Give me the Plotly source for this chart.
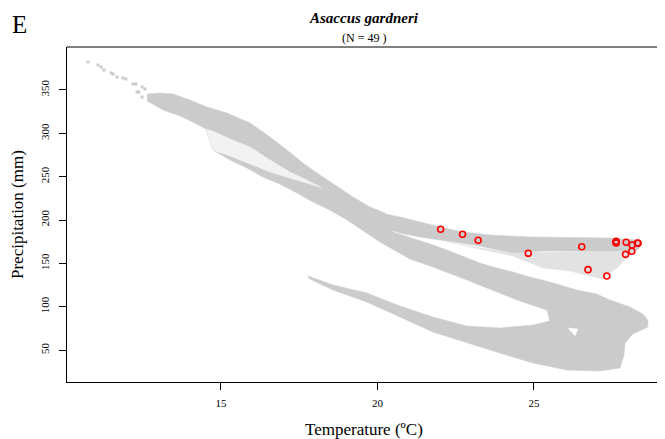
import plotly.graph_objects as go

# Red points: occurrence records of Asaccus gardneri (temperature, precipitation)
rec_temp = [22.02, 22.72, 23.22, 24.82, 26.53, 26.73, 27.33, 27.63, 27.63, 27.62,
            27.95, 28.14, 28.33, 28.31, 27.93, 28.13]
rec_prec = [189.3, 183.5, 176.6, 161.6, 169.2, 142.7, 135.4, 175.4, 173.5, 174.5,
            174.3, 171.2, 173.1, 173.5, 160.4, 163.9]

# Sparse background cells at the cool/wet end
tail_temp = [10.75, 11.07, 11.17, 11.26, 11.49, 11.55, 11.68, 11.87, 11.96, 12.19,
             12.28, 12.48, 12.57, 12.32, 12.38, 12.48]
tail_prec = [382.3, 378.8, 376.5, 373.1, 369.6, 368.5, 365.0, 363.8, 362.7, 356.9,
             356.9, 353.5, 351.2, 347.7, 347.7, 341.9]

# Outline of the main background cloud (upper band, middle band, lower band)
main_temp = [12.64, 13.05, 13.47, 14.01, 14.55, 15.19, 15.93, 16.57, 17.11, 17.62,
             18.07, 18.58, 19.22, 19.76, 20.24, 20.50,
             21.13, 21.68, 22.22, 22.86, 23.27, 23.82, 24.33, 24.87, 25.51, 26.37,
             27.01, 27.43, 28.07, 28.48, 28.64, 28.64, 28.16, 27.91, 27.88, 27.75,
             27.11, 26.05, 24.97, 23.91, 22.86, 21.77, 20.72, 19.66, 18.58, 17.84,
             17.78, 18.58, 19.66, 20.72, 21.77, 22.86, 23.91, 24.97, 25.51,
             25.42, 24.46, 23.91, 22.86, 21.77, 21.04, 20.08, 19.54, 19.03, 18.48,
             17.94, 17.43, 16.88, 16.34, 15.83, 15.29, 14.74, 14.52, 14.23, 13.69,
             13.15, 12.64]
main_prec = [345.4, 346.5, 345.4, 338.5, 330.4, 323.5, 311.9, 295.8, 280.8, 265.8,
             254.2, 241.5, 226.5, 215.0, 208.1, 186.2,
             179.2, 172.3, 165.4, 156.2, 150.4, 144.6, 140.0, 134.2, 128.5, 119.2,
             114.6, 107.7, 99.6, 91.5, 84.6, 76.5, 68.5, 58.1, 44.2, 29.2,
             25.8, 26.9, 35.0, 46.5, 58.1, 70.8, 88.1, 105.4, 119.2, 131.9,
             135.4, 125.0, 115.8, 100.8, 88.1, 77.7, 75.4, 78.8, 83.5,
             96.2, 107.7, 115.8, 130.8, 145.8, 155.0, 174.6, 187.3, 200.0, 211.5,
             220.8, 231.2, 241.5, 249.6, 260.0, 269.2, 280.8, 305.0, 310.8, 320.0,
             326.9, 337.3]

# Upper (dry) fork of the cloud
fork_temp = [20.08, 20.72, 21.36, 22.00, 22.73, 23.59, 24.87, 26.37, 27.43, 28.29,
             28.42, 28.32, 27.43, 26.37, 25.29, 24.33, 23.27, 22.22, 21.36, 20.72, 20.24]
fork_prec = [208.1, 203.5, 197.7, 191.9, 186.2, 182.7, 180.4, 179.2, 179.2, 176.9,
             171.2, 165.4, 164.2, 164.2, 164.2, 161.9, 170.0, 175.8, 180.4, 185.0, 190.8]

# Scattered cells under the fork
sparse_temp = [22.22, 24.33, 25.29, 26.15, 27.20, 27.65, 27.97, 28.39, 27.43, 24.33]
sparse_prec = [174.6, 158.5, 144.6, 141.2, 131.9, 144.6, 156.2, 168.8, 164.2, 161.9]

# Near-empty strip inside the upper band and a small hole in the lower band
gap_temp = [14.52, 14.81, 15.29, 15.93, 16.57, 17.20, 17.75, 18.23,
            17.94, 17.20, 16.57, 15.93, 15.29, 14.81, 14.74]
gap_prec = [305.0, 301.5, 293.5, 284.2, 269.2, 255.4, 246.2, 236.9,
            240.4, 248.5, 255.4, 264.6, 273.8, 279.6, 280.8]
hole_temp = [26.09, 26.41, 26.31]
hole_prec = [75.4, 74.2, 66.2]

x_ticks = [15, 20, 25]
y_ticks = [50, 100, 150, 200, 250, 300, 350]

GREY = '#cbcbcb'
FONT = 'Liberation Serif'


def area(xs, ys, color):
    return go.Scatter(x=xs, y=ys, mode='lines', fill='toself',
                      fillcolor=color, line=dict(color=color, width=0.5),
                      hoverinfo='skip', showlegend=False)


fig = go.Figure()
fig.add_trace(area(sparse_temp, sparse_prec, '#e2e2e2'))
fig.add_trace(area(main_temp, main_prec, GREY))
fig.add_trace(area(fork_temp, fork_prec, GREY))
fig.add_trace(area(gap_temp, gap_prec, '#f2f2f2'))
fig.add_trace(area(hole_temp, hole_prec, 'white'))

fig.add_trace(go.Scatter(x=tail_temp, y=tail_prec, mode='markers',
                         marker=dict(symbol='square', size=3, color=GREY),
                         showlegend=False))

fig.add_trace(go.Scatter(x=rec_temp, y=rec_prec, mode='markers',
                         marker=dict(symbol='circle-open', size=6,
                                     color='red', line=dict(width=1.6, color='red')),
                         showlegend=False))

# page has an 8px body margin, so the figure is 8px smaller than the window
fig.update_layout(
    width=657, height=431,
    margin=dict(l=59, r=0, t=39, b=57),
    plot_bgcolor='white', paper_bgcolor='white',
    font=dict(family=FONT, color='black'),
    xaxis=dict(range=[10.08, 29.19], tickvals=x_ticks, ticks='outside', ticklen=7,
               tickcolor='black', showline=True, linecolor='black', linewidth=1,
               showgrid=False, zeroline=False, ticklabelstandoff=4,
               tickfont=dict(size=11, family=FONT)),
    yaxis=dict(range=[13.1, 399.6], tickvals=y_ticks, ticks='outside', ticklen=7,
               tickcolor='black', showline=True, linecolor='black', linewidth=1,
               showgrid=False, zeroline=False, tickangle=-90, ticklabelstandoff=6,
               tickfont=dict(size=11, family=FONT)),
)

# top border of the box
fig.add_shape(type='line', xref='paper', yref='paper', x0=0, x1=1, y0=1, y1=1,
              line=dict(color='black', width=1))

# Panel letter, titles and axis labels
def label(text, x, y, size, angle=0):
    fig.add_annotation(text=text, xref='paper', yref='paper', x=x, y=y,
                       xanchor='center', yanchor='middle', textangle=angle,
                       borderpad=0, showarrow=False, font=dict(size=size, family=FONT))


label('E', -0.079, 1.066, 25)
label('<b><i>Asaccus gardneri</i></b>', 0.497, 1.087, 15)
label('(N = 49 )', 0.497, 1.027, 12)
label('Temperature (ºC)', 0.497, -0.143, 17)
label('Precipitation (mm)', -0.0836, 0.4985, 17, -90)

fig.write_html("out.html")
